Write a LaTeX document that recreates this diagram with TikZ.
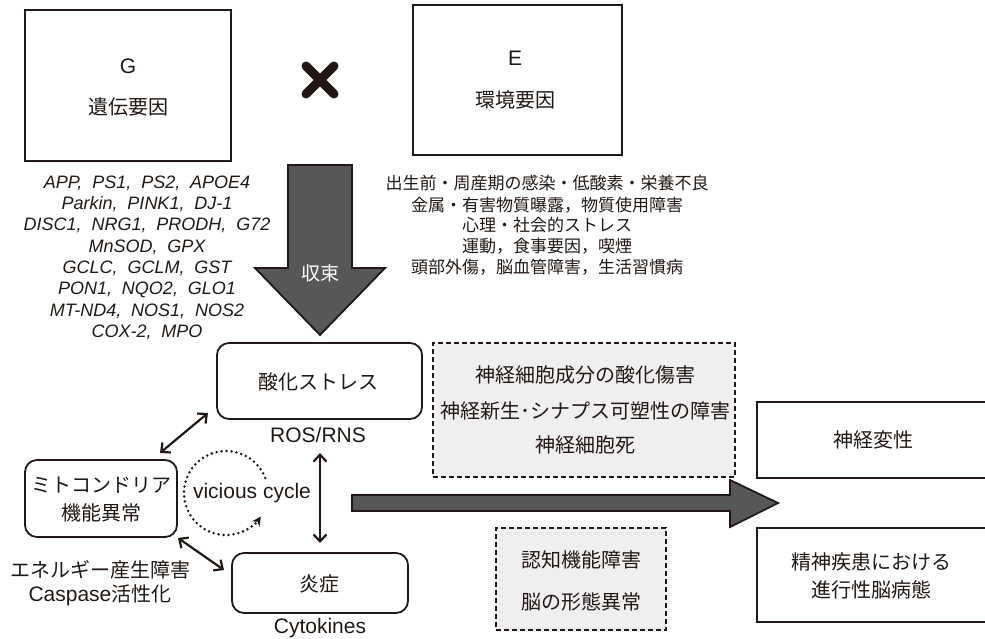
\documentclass[tikz,border=0pt]{standalone}
\usepackage{fontspec}
\setmainfont{Liberation Sans}
\newfontfamily\cjk{Noto Sans CJK JP}
\usetikzlibrary{arrows.meta}
\definecolor{ink}{HTML}{231815}
\definecolor{arrowgray}{HTML}{575757}
\definecolor{boxgray}{HTML}{EFEFEF}
\newcommand{\fsz}[1]{\fontsize{#1}{#1}\selectfont}
\newcommand{\gsp}{,\hspace{0.55em}}
\begin{document}
\begin{tikzpicture}[x=1pt,y=-1pt,
  every node/.style={text=ink,inner sep=0pt,outer sep=0pt},
  plainbox/.style={draw=ink,line width=1.8pt,fill=white},
  roundbox/.style={draw=ink,line width=1.8pt,rounded corners=12pt,fill=white},
  dashbox/.style={draw=ink,line width=1.7pt,dash pattern=on 5pt off 3pt,fill=boxgray},
  jp/.style={font=\cjk\fsz{20}},
  jpsmall/.style={font=\cjk\fsz{17}},
  lat/.style={font=\fsz{21}},
  gene/.style={font=\itshape\fsz{18}},
  bigarrow/.style={draw=ink,line width=1.8pt,fill=arrowgray,line join=miter},
  dbl/.style={draw=ink,line width=2.2pt,{Straight Barb[length=7pt,width=13pt,line width=2.2pt]}-{Straight Barb[length=7pt,width=13pt,line width=2.2pt]}},
  cyc/.style={draw=ink,line width=2.8pt,dash pattern=on 0pt off 5pt,line cap=round,-{Stealth[length=9pt,width=9pt]}}
]
\useasboundingbox (0,0) rectangle (985,639);
\clip (0,0) rectangle (985,639);

% top boxes
\node[plainbox,minimum width=206pt,minimum height=151pt] (G) at (128,85.5) {};
\node[lat] (Gl) at (128,66) {G};
\node[jp] (Gt) at (128,107) {遺伝要因};
\node[plainbox,minimum width=209pt,minimum height=150pt] (E) at (517.5,80) {};
\node[lat] (El) at (515,58) {E};
\node[jp] (Et) at (515,100) {環境要因};

% cross
\coordinate (x1) at (306,66); \coordinate (x2) at (334,94);
\coordinate (x3) at (334,66); \coordinate (x4) at (306,94);
\draw[ink,line width=9pt,line cap=round] (x1) -- (x2) (x3) -- (x4);

% gene list
\foreach \t [count=\i] in {APP\gsp PS1\gsp PS2\gsp APOE4,
  Parkin\gsp PINK1\gsp DJ-1,
  DISC1\gsp NRG1\gsp PRODH\gsp G72,
  MnSOD\gsp GPX,
  GCLC\gsp GCLM\gsp GST,
  PON1\gsp NQO2\gsp GLO1,
  MT-ND4\gsp NOS1\gsp NOS2,
  COX-2\gsp MPO}
  \node[gene] (g\i) at (147,{183+21.4*(\i-1)}) {\t};

% environment list
\node[jpsmall] (e1) at (547,183) {出生前・周産期の感染・低酸素・栄養不良};
\node[jpsmall] (e2) at (547,205) {金属・有害物質曝露，物質使用障害};
\node[jpsmall] (e3) at (547,225.5) {心理・社会的ストレス};
\node[jpsmall] (e4) at (547,246) {運動，食事要因，喫煙};
\node[jpsmall] (e5) at (547,267) {頭部外傷，脳血管障害，生活習慣病};

% converging arrow
\draw[bigarrow] (288,165) -- (352,165) -- (352,268) -- (385,268) -- (320,335) -- (255,268) -- (288,268) -- cycle;
\node[font=\cjk\fsz{19},text=white] (conv) at (320,273) {収束};

% oxidative stress
\node[roundbox,minimum width=205pt,minimum height=76pt] (ox) at (319.5,381) {};
\node[jp] (oxt) at (318,382) {酸化ストレス};
\node[lat] (ros) at (318,435) {ROS/RNS};

% mitochondria
\node[roundbox,minimum width=152pt,minimum height=77pt] (mito) at (101,498.5) {};
\node[jp] (m1) at (101,485) {ミトコンドリア};
\node[jp] (m2) at (101,513) {機能異常};
\node[jp] (en) at (100,570) {エネルギー産生障害};
\node[lat] (casp) at (100,595) {Caspase{\cjk\fsz{20}活性化}};

% inflammation
\node[roundbox,minimum width=176pt,minimum height=60pt] (inf) at (320,583) {};
\node[jp] (inft) at (319,584) {炎症};
\node[lat] (cyto) at (320,628) {Cytokines};

% double arrows
\coordinate (a1) at (160,453); \coordinate (a2) at (208,413);
\coordinate (b1) at (178,538); \coordinate (b2) at (224,570);
\coordinate (c1) at (320,453); \coordinate (c2) at (320,543);
\draw[dbl] (a1) -- (a2);
\draw[dbl] (b1) -- (b2);
\draw[dbl] (c1) -- (c2);

% vicious cycle
\coordinate (vc) at (226,493);
\draw[cyc] ([shift={(-21:42)}]vc) arc[start angle=-21,end angle=-326,radius=42];
\node[lat] (vct) at (252,493) {vicious cycle};

% horizontal big arrow
\draw[bigarrow] (352,495) -- (730,495) -- (730,480) -- (778,503) -- (730,527) -- (730,511) -- (352,511) -- cycle;

% dashed boxes
\node[dashbox,minimum width=302pt,minimum height=134pt] (d1) at (584,410) {};
\node[jp] (d1a) at (585,375) {神経細胞成分の酸化傷害};
\node[jp] (d1b) at (585,411) {神経新生･シナプス可塑性の障害};
\node[jp] (d1c) at (585,445) {神経細胞死};
\node[dashbox,minimum width=170pt,minimum height=102pt] (d2) at (581,579) {};
\node[jp] (d2a) at (581,560) {認知機能障害};
\node[jp] (d2b) at (581,602) {脳の形態異常};

% right boxes
\node[plainbox,minimum width=260pt,minimum height=76pt] (r1) at (887,440) {};
\node[jp] (r1t) at (873,440) {神経変性};
\node[plainbox,minimum width=260pt,minimum height=94pt] (r2) at (887,575) {};
\node[jp] (r2a) at (871,562) {精神疾患における};
\node[jp] (r2b) at (871,590) {進行性脳病態};
\end{tikzpicture}
\end{document}
